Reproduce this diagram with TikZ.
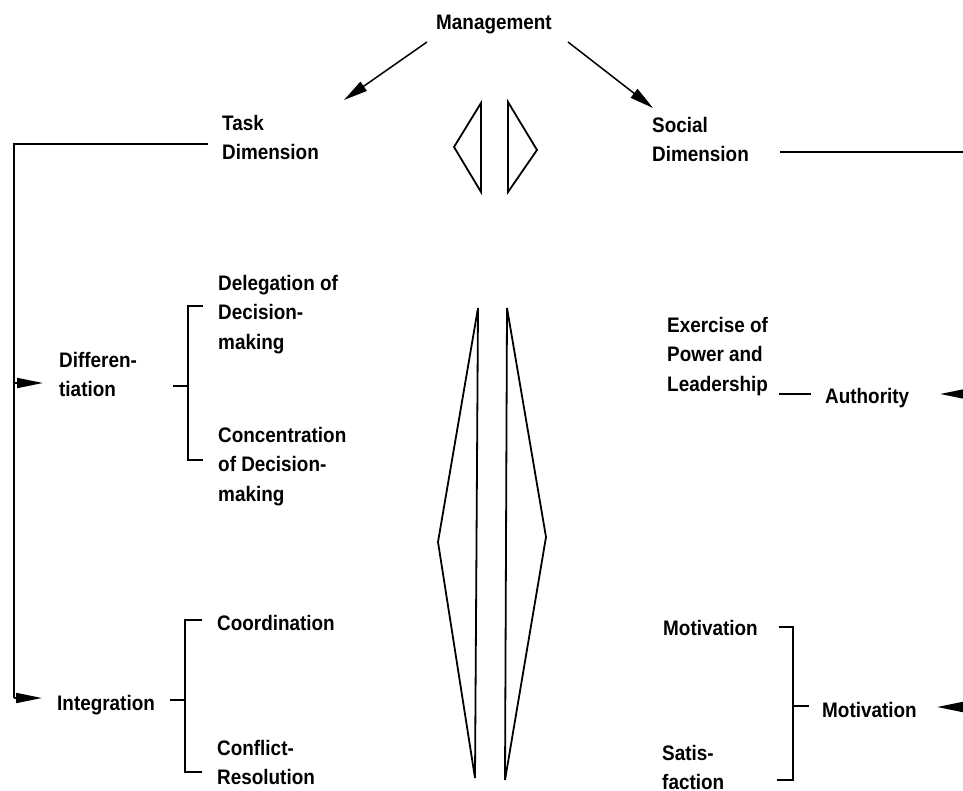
\documentclass[tikz,border=0pt]{standalone}
\usepackage{fontspec}
\setmainfont[FakeStretch=0.9]{Liberation Sans}
\usetikzlibrary{arrows.meta}
\begin{document}
\begin{tikzpicture}[x=1pt,y=-1pt,
  lbl/.style={anchor=north west, inner sep=0pt, align=left, font=\bfseries\fontsize{21}{29.5}\selectfont},
  ln/.style={line width=1.8pt},
  arr/.style={line width=1.8pt, -{Triangle[length=26pt,width=10pt]}},
  marr/.style={line width=1.5pt, -{Triangle[length=24pt,width=11pt]}},
  shp/.style={line width=1.8pt, line join=miter}]
\useasboundingbox (0,0) rectangle (963,790);

% labels
\node[lbl] (mgmt) at (436,15) {Management};
\node[lbl] (task) at (222,115) {Task\\Dimension};
\node[lbl] (social) at (652,117) {Social\\Dimension};
\node[lbl] (diff) at (59,352) {Differen-\\tiation};
\node[lbl] (deleg) at (218,275) {Delegation of\\Decision-\\making};
\node[lbl] (conc) at (218,427) {Concentration\\of Decision-\\making};
\node[lbl] (integ) at (57,695) {Integration};
\node[lbl] (coord) at (217,615) {Coordination};
\node[lbl] (confl) at (217,740) {Conflict-\\Resolution};
\node[lbl] (power) at (667,317) {Exercise of\\Power and\\Leadership};
\node[lbl] (auth) at (825,388) {Authority};
\node[lbl] (motl) at (663,620) {Motivation};
\node[lbl] (motr) at (822,702) {Motivation};
\node[lbl] (satis) at (662,745) {Satis-\\faction};

% connector points
\coordinate (mL) at (427,42);
\coordinate (tL) at (344,100);
\coordinate (mR) at (568,42);
\coordinate (tR) at (653,108);
\coordinate (taskE) at (208,144);
\coordinate (frL) at (14,144);
\coordinate (diffT) at (43,383);
\coordinate (integT) at (42,698);
\coordinate (socE) at (780,152);
\coordinate (frR) at (963,152);
\coordinate (authS) at (963,394);
\coordinate (authT) at (940,394);
\coordinate (motS) at (963,707);
\coordinate (motT) at (937,707);

% management arrows
\draw[marr] (mL) -- (tL);
\draw[marr] (mR) -- (tR);

% left frame
\draw[ln] (taskE) -- (frL) -- (frL |- integT);
\draw[arr] (frL |- integT) -- (integT);
\draw[arr] (frL |- diffT) -- (diffT);

% right frame
\draw[ln] (socE) -- (frR);
\draw[arr] (authS) -- (authT);
\draw[arr] (motS) -- (motT);

% differentiation bracket
\draw[ln] (173,386) -- (188,386);
\draw[ln] (203,306) -- (188,306) -- (188,460) -- (203,460);

% integration bracket
\draw[ln] (170,700) -- (185,700);
\draw[ln] (202,620) -- (185,620) -- (185,772) -- (202,772);

% authority line
\draw[ln] (779,394) -- (811,394);

% motivation bracket
\draw[ln] (779,627) -- (793,627) -- (793,780) -- (777,780);
\draw[ln] (793,706) -- (809,706);

% central shapes
\draw[shp] (481,103) -- (454,147) -- (481,192) -- cycle;
\draw[shp] (508,102) -- (537,150) -- (508,192) -- cycle;
\draw[shp] (478,308) -- (438,542) -- (475,778) -- cycle;
\draw[shp] (507,308) -- (546,537) -- (505,780) -- cycle;
\end{tikzpicture}
\end{document}
